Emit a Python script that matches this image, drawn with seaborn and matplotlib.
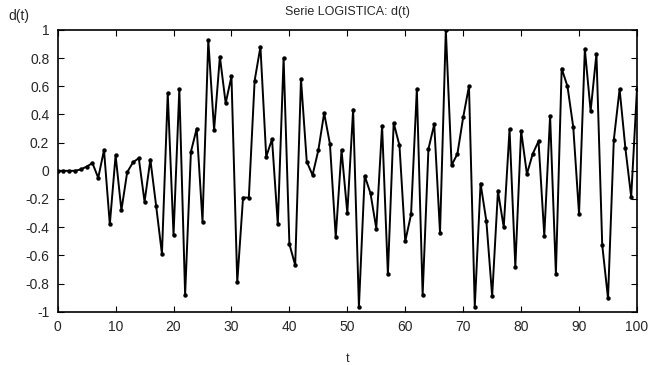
import matplotlib
matplotlib.use("Agg")
import matplotlib.pyplot as plt
import seaborn as sns
import pandas as pd

# Logistic series d(t), t = 0..100
t = list(range(0, 101))
d = [
    0.0, 0.0, 0.0, 0.0, 0.01, 0.03, 0.055, -0.05, 0.147, -0.38,
    0.11, -0.28, -0.01, 0.06, 0.09, -0.22, 0.08, -0.25, -0.59, 0.55,
    -0.456, 0.58, -0.88, 0.135, 0.30, -0.36, 0.927, 0.29, 0.81, 0.48,
    0.67, -0.79, -0.19, -0.19, 0.64, 0.88, 0.10, 0.225, -0.38, 0.80,
    -0.52, -0.67, 0.65, 0.064, -0.03, 0.147, 0.41, 0.19, -0.47, 0.147,
    -0.30, 0.435, -0.965, -0.035, -0.16, -0.41, 0.32, -0.735, 0.34, 0.18,
    -0.50, -0.31, 0.58, -0.88, 0.155, 0.33, -0.44, 1.0, 0.04, 0.12,
    0.38, 0.60, -0.965, -0.09, -0.357, -0.89, -0.144, -0.40, 0.295, -0.68,
    0.284, -0.023, 0.12, 0.21, -0.46, 0.39, -0.73, 0.726, 0.60, 0.31,
    -0.307, 0.863, 0.425, 0.83, -0.527, -0.905, 0.22, 0.58, 0.16, -0.185,
    0.58,
]

xticks = [0, 10, 20, 30, 40, 50, 60, 70, 80, 90, 100]
yticks = [-1, -0.8, -0.6, -0.4, -0.2, 0, 0.2, 0.4, 0.6, 0.8, 1]
ytick_labels = ["-1", "-0.8", "-0.6", "-0.4", "-0.2", "0", "0.2", "0.4", "0.6", "0.8", "1"]

sns.set_style("white")
plt.rcParams["font.family"] = ["Liberation Sans", "DejaVu Sans"]
plt.rcParams["axes.unicode_minus"] = False

df = pd.DataFrame({"t": t, "d": d})

fig = plt.figure(figsize=(6.48, 3.65), dpi=100)
ax = fig.add_axes([0.089, 0.146, 0.894, 0.772])

sns.lineplot(data=df, x="t", y="d", ax=ax, color="black", linewidth=1.4,
             marker="o", markersize=3.2, markeredgewidth=0, markerfacecolor="black")

ax.set_xlim(0, 100)
ax.set_ylim(-1, 1)
ax.set_xticks(xticks)
ax.set_yticks(yticks)
ax.set_yticklabels(ytick_labels)
ax.tick_params(direction="in", length=4, width=0.8, labelsize=10, color="black",
               top=True, right=True, bottom=True, left=True, pad=6)

for s in ax.spines.values():
    s.set_color("black")
    s.set_linewidth(1.2)

ax.set_xlabel("t", fontsize=9, labelpad=14)
ax.set_ylabel("")
fig.text(0.013, 0.955, "d(t)", fontsize=10, ha="left", va="center")
ax.set_title("Serie LOGISTICA: d(t)", fontsize=9, pad=11)

fig.savefig("out.png", dpi=100)
